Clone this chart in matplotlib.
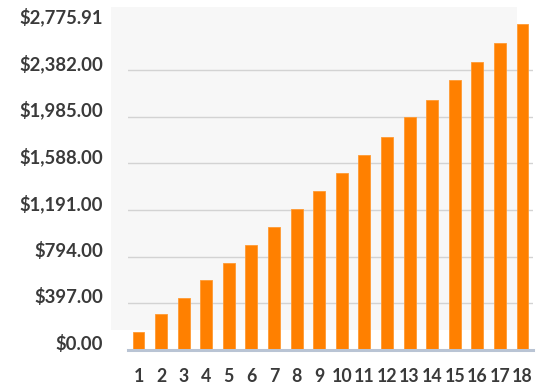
import matplotlib
matplotlib.use("Agg")
import matplotlib.pyplot as plt
from matplotlib.patches import Rectangle

periods = list(range(1, 19))
values = [155.7, 303.7, 439.8, 595.4, 742.6, 893.2, 1048.9, 1199.4, 1352.5,
          1503.1, 1658.8, 1811.9, 1979.4, 2126.6, 2296.8, 2449.9, 2611.5, 2775.91]
yticks = [0, 397, 794, 1191, 1588, 1985, 2382, 2775.91]
ytick_labels = ["$0.00", "$397.00", "$794.00", "$1,191.00", "$1,588.00",
                "$1,985.00", "$2,382.00", "$2,775.91"]

W, H = 540, 389
fig = plt.figure(figsize=(W / 100, H / 100), dpi=100)
fig.patch.set_facecolor("white")

# light background panel
fig.add_artist(Rectangle((111 / W, 1 - 330 / H), (517 - 111) / W, (330 - 7) / H,
                         transform=fig.transFigure, facecolor="#f7f7f7",
                         edgecolor="none", zorder=0))

left, right = 128 / W, 533 / W
bottom, top = 1 - 350 / H, 1 - 23.7 / H
ax = fig.add_axes([left, bottom, right - left, top - bottom])
ax.set_facecolor("none")

ax.bar(periods, values, width=0.53, color="#ff8000", edgecolor="#ff9a33",
       linewidth=0.6, zorder=3)

ax.set_xlim(0.535, 18.465)
ax.set_ylim(0, 2775.91)

for y in yticks[1:-1]:
    ax.axhline(y, color="#d3d3d3", linewidth=1.0, zorder=1)
ax.axhline(0, color="#b9c4d4", linewidth=2.2, zorder=4, clip_on=False)

for s in ax.spines.values():
    s.set_visible(False)

ax.set_yticks(yticks)
ax.set_yticklabels(ytick_labels, fontfamily="Lato", fontweight="bold",
                   fontsize=13.3, color="#3a3a3a", va="baseline")
ax.set_xticks(periods)
ax.set_xticklabels([str(p) for p in periods], fontfamily="Lato",
                   fontweight="bold", fontsize=12.8, color="#3a3a3a")
ax.tick_params(axis="y", length=0, pad=18)
ax.tick_params(axis="x", length=0, pad=13)

fig.savefig("out.png", dpi=100, facecolor="white")
